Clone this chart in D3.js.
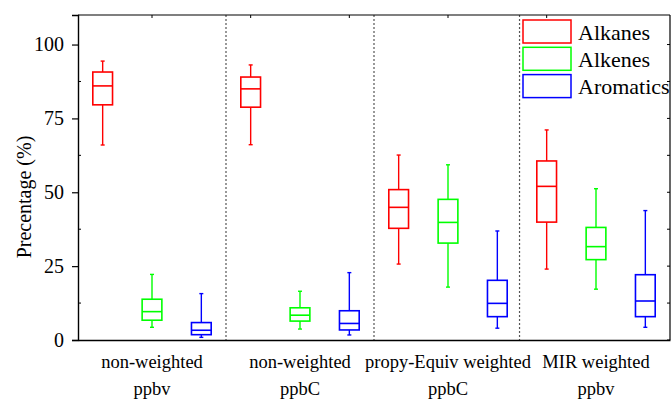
<!DOCTYPE html>
<html>
<head>
<meta charset="utf-8">
<script src="https://cdn.jsdelivr.net/npm/d3@7"></script>
<style>
  html, body { margin: 0; padding: 0; background: #fff; }
</style>
</head>
<body>
<svg id="chart" width="671" height="401"></svg>
<script>
// categories along the x axis (two-line labels)
const groupLines1 = ["non-weighted", "non-weighted", "propy-Equiv weighted", "MIR weighted"];
const groupLines2 = ["ppbv", "ppbC", "ppbC", "ppbv"];
const seriesNames = ["Alkanes", "Alkenes", "Aromatics"];
const seriesColors = ["#ff0000", "#00ff00", "#0000ff"];

// box statistics per series, one entry per group: [whiskerLow, q1, median, q3, whiskerHigh]
const alkanes = [
  [66.0, 79.6, 86.0, 90.7, 94.4],
  [66.1, 78.8, 85.0, 89.0, 93.1],
  [25.7, 37.8, 44.9, 50.9, 62.6],
  [24.0, 39.9, 52.0, 60.6, 71.1]
];
const alkenes = [
  [4.3, 6.7, 9.6, 13.8, 22.2],
  [3.7, 6.4, 8.4, 10.9, 16.5],
  [17.9, 32.8, 39.8, 47.6, 59.3],
  [17.2, 27.2, 31.6, 38.1, 51.2]
];
const aromatics = [
  [0.9, 1.8, 3.3, 5.9, 15.7],
  [1.7, 3.4, 5.6, 9.9, 22.8],
  [4.0, 7.9, 12.4, 20.2, 36.9],
  [4.3, 7.9, 13.2, 22.1, 43.8]
];
const yTicks = [0, 25, 50, 75, 100];
const yMinorTicks = [12.5, 37.5, 62.5, 87.5];
const separators = [3.5, 6.5, 9.45];

const series = [alkanes, alkenes, aromatics];
const serif = '"Liberation Serif", "Times New Roman", serif';
const svg = d3.select("#chart");
const pLeft = 78, pRight = 670, pTop = 15, pBottom = 340;

const x = d3.scaleLinear().domain([0.5, 12.5]).range([pLeft, pRight]);
const y = d3.scaleLinear().domain([0, 110]).range([pBottom, pTop]);
const boxW = x(1.2) - x(0.8);
const capW = 2;

// group separators
svg.selectAll("line.sep")
  .data(separators)
  .enter().append("line")
  .attr("class", "sep")
  .attr("x1", d => x(d)).attr("x2", d => x(d))
  .attr("y1", pTop).attr("y2", pBottom)
  .attr("stroke", "#555")
  .attr("stroke-width", 1.2)
  .attr("stroke-dasharray", "2,2");

// boxes
series.forEach((s, si) => {
  const color = seriesColors[si];
  const g = svg.append("g").attr("class", "series-" + si);
  s.forEach((d, gi) => {
    const cx = x(gi * 3 + si + 1);
    const b = g.append("g");
    b.append("line")
      .attr("x1", cx).attr("x2", cx)
      .attr("y1", y(d[0])).attr("y2", y(d[1]))
      .attr("stroke", color).attr("stroke-width", 1.4);
    b.append("line")
      .attr("x1", cx).attr("x2", cx)
      .attr("y1", y(d[3])).attr("y2", y(d[4]))
      .attr("stroke", color).attr("stroke-width", 1.4);
    [d[0], d[4]].forEach(v => {
      b.append("line")
        .attr("x1", cx - capW).attr("x2", cx + capW)
        .attr("y1", y(v)).attr("y2", y(v))
        .attr("stroke", color).attr("stroke-width", 1.4);
    });
    b.append("rect")
      .attr("x", cx - boxW / 2).attr("width", boxW)
      .attr("y", y(d[3])).attr("height", y(d[1]) - y(d[3]))
      .attr("fill", "none")
      .attr("stroke", color).attr("stroke-width", 1.6);
    b.append("line")
      .attr("x1", cx - boxW / 2).attr("x2", cx + boxW / 2)
      .attr("y1", y(d[2])).attr("y2", y(d[2]))
      .attr("stroke", color).attr("stroke-width", 1.6);
  });
});

// frame
svg.append("line").attr("x1", pLeft).attr("x2", pRight).attr("y1", pTop).attr("y2", pTop)
  .attr("stroke", "#000").attr("stroke-width", 1.2);
svg.append("line").attr("x1", pRight).attr("x2", pRight).attr("y1", pTop).attr("y2", pBottom)
  .attr("stroke", "#000").attr("stroke-width", 1.2);

// left axis
const yAxis = svg.append("g")
  .attr("transform", `translate(${pLeft},0)`)
  .call(d3.axisLeft(y).tickValues(yTicks).tickSize(6).tickPadding(8));
yAxis.attr("font-family", null);
yAxis.select(".domain").attr("stroke-width", 1.4);
yAxis.selectAll(".tick line").attr("stroke-width", 1.2);
yAxis.selectAll("text")
  .style("font-family", serif)
  .style("font-size", "20px")
  .attr("fill", "#000");

// minor ticks (inside) on left, ticks inside on right
svg.selectAll("line.ymin")
  .data(yMinorTicks)
  .enter().append("line")
  .attr("class", "ymin")
  .attr("x1", pLeft).attr("x2", pLeft + 3)
  .attr("y1", d => y(d)).attr("y2", d => y(d))
  .attr("stroke", "#000").attr("stroke-width", 1);
svg.selectAll("line.yr")
  .data(yTicks.concat(yMinorTicks))
  .enter().append("line")
  .attr("class", "yr")
  .attr("x1", pRight).attr("x2", pRight - 3)
  .attr("y1", d => y(d)).attr("y2", d => y(d))
  .attr("stroke", "#000").attr("stroke-width", 1);

// top ticks (inside)
svg.selectAll("line.xt")
  .data([2, 4, 6, 8, 10])
  .enter().append("line")
  .attr("class", "xt")
  .attr("x1", d => x(d)).attr("x2", d => x(d))
  .attr("y1", pTop).attr("y2", pTop + 3)
  .attr("stroke", "#000").attr("stroke-width", 1);

// bottom axis
const xAxis = svg.append("g")
  .attr("transform", `translate(0,${pBottom})`)
  .call(d3.axisBottom(x).tickValues([2, 4, 6, 8, 10]).tickSize(0).tickFormat(""));
xAxis.select(".domain").attr("stroke-width", 1.6);

// group labels
svg.selectAll("text.g1")
  .data(groupLines1)
  .enter().append("text")
  .attr("class", "g1")
  .attr("x", (d, i) => x(i * 3 + 2))
  .attr("y", 368)
  .attr("text-anchor", "middle")
  .style("font-family", serif)
  .style("font-size", "18.5px")
  .text(d => d);
svg.selectAll("text.g2")
  .data(groupLines2)
  .enter().append("text")
  .attr("class", "g2")
  .attr("x", (d, i) => x(i * 3 + 2))
  .attr("y", 395)
  .attr("text-anchor", "middle")
  .style("font-family", serif)
  .style("font-size", "18.5px")
  .text(d => d);

// y title
svg.append("text")
  .attr("transform", "translate(31,197) rotate(-90)")
  .attr("text-anchor", "middle")
  .style("font-family", serif)
  .style("font-size", "20px")
  .text("Precentage (%)");

// legend
const legend = svg.append("g").attr("transform", "translate(523,20)")
  .selectAll("g")
  .data(seriesNames)
  .enter().append("g")
  .attr("transform", (d, i) => `translate(0,${i * 27.3})`);
legend.append("rect")
  .attr("width", 48).attr("height", 23)
  .attr("fill", "#fff")
  .attr("stroke", (d, i) => seriesColors[i])
  .attr("stroke-width", 1.5);
legend.append("text")
  .attr("x", 55).attr("y", 19.5)
  .style("font-family", serif)
  .style("font-size", "22px")
  .text(d => d);
</script>
</body>
</html>
